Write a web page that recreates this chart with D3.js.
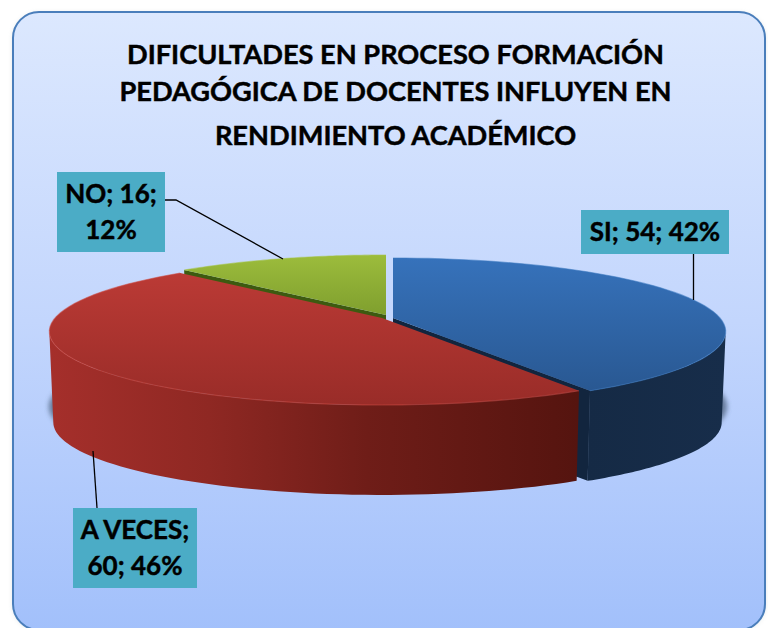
<!DOCTYPE html>
<html><head><meta charset="utf-8">
<script src="https://cdn.jsdelivr.net/npm/d3@7"></script>
<style>html,body{margin:0;padding:0;background:#fff}svg{display:block}text{font-family:Lato,"Open Sans",sans-serif;font-weight:700;fill:#000;stroke:#000;stroke-width:.45px}</style>
</head><body><div id="c"></div>
<script>
const titleLines = ["DIFICULTADES EN PROCESO FORMACIÓN","PEDAGÓGICA DE DOCENTES INFLUYEN EN","RENDIMIENTO ACADÉMICO"];
const categories = ["SI","A VECES","NO"];
const values = [54,60,16];

const W=768,H=628;
const svg=d3.select("#c").append("svg").attr("width",W).attr("height",H);
const defs=svg.append("defs");
function grad(id,stops,x1,y1,x2,y2,user){
  const g=defs.append("linearGradient").attr("id",id).attr("x1",x1).attr("y1",y1).attr("x2",x2).attr("y2",y2);
  if(user) g.attr("gradientUnits","userSpaceOnUse");
  stops.forEach(s=>g.append("stop").attr("offset",s[0]).attr("stop-color",s[1]));
}
grad("bg",[[0,"#dce8fe"],[.5,"#c3d6fd"],[1,"#a2c0fb"]],0,0,0,1);
grad("topSI",[[0,"#3672bb"],[1,"#295892"]],0,0,0,1);
grad("topAV",[[0,"#bb3a35"],[1,"#992c28"]],0,0,0,1);
grad("topNO",[[0,"#9cbc3c"],[1,"#7f9f2e"]],0,0,0,1);
grad("wallSI",[[0,"#152a45"],[1,"#172d4a"]],0,0,1,0);
grad("wallAV",[[0,"#a52f2b"],[.3,"#8f2823"],[.6,"#6f1d18"],[1,"#55140f"]],50,0,578,0,true);
const blur=defs.append("filter").attr("id","blur").attr("x","-10%").attr("y","-20%").attr("width","120%").attr("height","140%");
blur.append("feGaussianBlur").attr("stdDeviation",2.5);
const soft=defs.append("filter").attr("id","soft").attr("x","-5%").attr("y","-5%").attr("width","110%").attr("height","110%");
soft.append("feGaussianBlur").attr("stdDeviation",2.5);

svg.append("rect").attr("x",13).attr("y",13).attr("width",752).attr("height",617).attr("rx",26)
  .attr("fill","#9aa").attr("opacity",.35).attr("filter","url(#soft)");
svg.append("rect").attr("x",13).attr("y",12).attr("width",752).attr("height",618).attr("rx",26)
  .attr("fill","url(#bg)").attr("stroke","#4a7ebb").attr("stroke-width",2);

svg.append("g").selectAll("text").data(titleLines).join("text")
  .attr("x",395.5).attr("y",(d,i)=>[64,101,145][i]).attr("text-anchor","middle")
  .attr("font-size",27.2).text(d=>d);

// perspective projection of the pie
const k=.184, A=327, B=71, D=91, narrow=.012;
const origin={SI:[393,318],"A VECES":[382,318],NO:[386,315]};
function proj(o,r,t,z){
  const x=r*Math.sin(t), y=-r*Math.cos(t), s=1/(1-k*y), f=1-narrow*z;
  return [o[0]+x*s*A*f, o[1]+y*s*B*f+z*D];
}
const pie=d3.pie().sort(null).value(d=>d.v)(categories.map((c,i)=>({c,v:values[i]})));
const line=d3.line();
const arcPts=(o,a,b,z)=>d3.range(0,61).map(i=>proj(o,1,a+(b-a)*i/60,z));
const frontA=Math.acos(-k), frontB=2*Math.PI-frontA;

const total=d3.sum(values);
const chart=svg.append("g");
// shadow under the bottom rim
chart.append("path").attr("d",line(d3.range(0,91).map(i=>proj([388,306],1.03,i/90*2*Math.PI,.95)))+"Z")
  .attr("fill","#4f6480").attr("opacity",.8).attr("filter","url(#blur)");

const drawOrder=["NO","SI","A VECES"];
const suffix={SI:"SI","A VECES":"AV",NO:"NO"};
const radialFill={SI:"#12253e","A VECES":"#55140f",NO:"#3d5a10"};
const rim={SI:"#3a78c0","A VECES":"#cc4a44",NO:"#a4c245"};
drawOrder.forEach(name=>{
  const p=pie.find(d=>d.data.c===name), o=origin[name], a=p.startAngle, b=p.endAngle;
  const g=chart.append("g");
  // radial face at the end of the slice
  if(name!=="A VECES"){
    const t=name==="NO"?a:b;
    g.append("path").attr("d",line([proj(o,0,0,0),proj(o,1,t,0),proj(o,1,t,1),proj(o,0,0,1)])+"Z").attr("fill",radialFill[name]);
  }
  // outer wall: only the part of the rim that faces the viewer
  const wa=Math.max(a,frontA), wb=Math.min(b,frontB);
  if(wb>wa){
    const pts=arcPts(o,wa,wb,0).concat(arcPts(o,wa,wb,1).reverse());
    g.append("path").attr("d",line(pts)+"Z").attr("fill",`url(#wall${suffix[name]})`);
  }
  // top
  const top=[proj(o,0,0,0)].concat(arcPts(o,a,b,0));
  g.append("path").attr("d",line(top)+"Z").attr("fill",`url(#top${suffix[name]})`);
  g.append("path").attr("d",line(arcPts(o,a,b,0))).attr("fill","none").attr("stroke",rim[name]).attr("stroke-width",1.2).attr("opacity",.55);
});

// labels
const fmt=d3.format(".0%");
const labelLines={SI:[`SI; ${values[0]}; ${fmt(values[0]/total)}`],
  "A VECES":[`A VECES;`,`${values[1]}; ${fmt(values[1]/total)}`],
  NO:[`NO; ${values[2]};`,`${fmt(values[2]/total)}`]};
const boxes={SI:[581,210,148,44],"A VECES":[73,508,124,80],NO:[57,172,108,80]};
const leaders={SI:[[693.5,254],[693.5,300]],"A VECES":[[93,451],[97,508]],NO:[[165,200],[176,200],[283,259]]};
categories.forEach(c=>{
  svg.append("path").attr("d",line(leaders[c])).attr("fill","none").attr("stroke","#000").attr("stroke-width",1.3);
  const b=boxes[c];
  svg.append("rect").attr("x",b[0]).attr("y",b[1]).attr("width",b[2]).attr("height",b[3]).attr("fill","#4bacc6");
  labelLines[c].forEach((t,i)=>{
    svg.append("text").attr("x",b[0]+b[2]/2).attr("y",b[1]+(labelLines[c].length===1?31:31+i*36))
      .attr("text-anchor","middle").attr("font-size",26).text(t);
  });
});
</script></body></html>
